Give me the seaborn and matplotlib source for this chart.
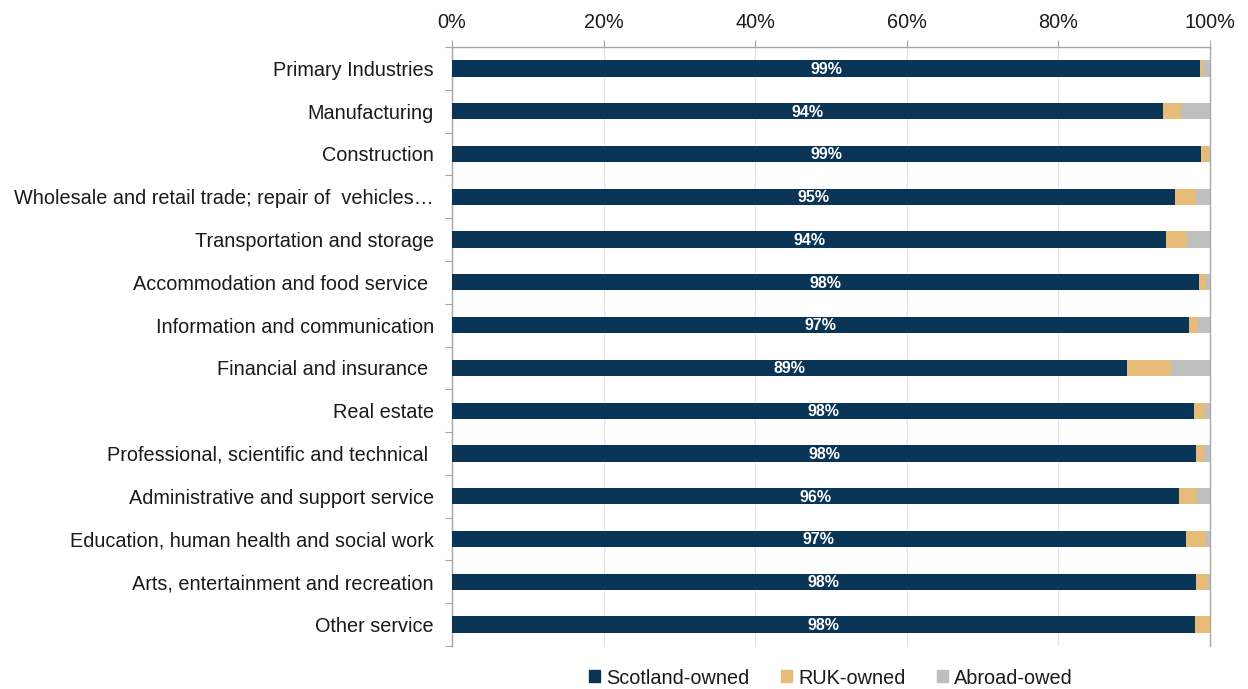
import matplotlib
matplotlib.use("Agg")
import matplotlib.pyplot as plt
import matplotlib.patches as mpatches
import seaborn as sns
import pandas as pd
import numpy as np

sectors = [
    "Primary Industries",
    "Manufacturing",
    "Construction",
    "Wholesale and retail trade; repair of  vehicles\u2026",
    "Transportation and storage",
    "Accommodation and food service ",
    "Information and communication",
    "Financial and insurance ",
    "Real estate",
    "Professional, scientific and technical ",
    "Administrative and support service",
    "Education, human health and social work",
    "Arts, entertainment and recreation",
    "Other service",
]
scotland = [98.7, 93.8, 98.8, 95.4, 94.2, 98.5, 97.2, 89.1, 97.9, 98.2, 95.9, 96.8, 98.1, 98.0]
ruk      = [0.4, 2.4, 1.1, 2.8, 2.8, 1.0, 1.2, 5.8, 1.5, 1.0, 2.4, 2.7, 1.7, 2.0]
abroad   = [0.9, 3.8, 0.1, 1.8, 3.0, 0.5, 1.6, 5.1, 0.6, 0.8, 1.7, 0.5, 0.2, 0.0]
labels   = ["99%", "94%", "99%", "95%", "94%", "98%", "97%", "89%", "98%", "98%", "96%", "97%", "98%", "98%"]

series_names = ["Scotland-owned", "RUK-owned", "Abroad-owed"]
colors = ["#0B3556", "#E6BC78", "#BFBFBF"]

df = pd.DataFrame({"sector": sectors, "Scotland-owned": scotland,
                   "RUK-owned": ruk, "Abroad-owed": abroad})
df["cum_scot"] = df["Scotland-owned"]
df["cum_ruk"] = df["cum_scot"] + df["RUK-owned"]
df["cum_abroad"] = df["cum_ruk"] + df["Abroad-owed"]

sns.set_theme(style="white")
plt.rcParams["font.family"] = ["Liberation Sans", "DejaVu Sans"]
text_color = "#1a1a1a"

fig = plt.figure(figsize=(12.48, 6.89), dpi=100)
ax = fig.add_axes([452 / 1248, 1 - 646 / 689, (1210 - 452) / 1248, (646 - 47) / 689])

# stacked bars: draw cumulative totals back to front
for col, color in zip(["cum_abroad", "cum_ruk", "cum_scot"], colors[::-1]):
    sns.barplot(data=df, y="sector", x=col, color=color, orient="h",
                width=0.38, ax=ax, saturation=1, linewidth=0, zorder=3)

for i, (v, lab) in enumerate(zip(scotland, labels)):
    ax.text(v / 2, i + 0.02, lab, ha="center", va="center", color="white",
            fontsize=11.5, fontweight="bold", zorder=5)

ax.set_xlim(0, 100)
ax.set_ylim(len(sectors) - 0.5, -0.5)
ax.set_xlabel("")
ax.set_ylabel("")

ax.xaxis.tick_top()
ax.set_xticks(np.arange(0, 101, 20))
ax.set_xticklabels([f"{t}%" for t in range(0, 101, 20)])
ax.tick_params(axis="x", which="major", top=True, bottom=False, direction="out",
               length=5, width=0.8, color="#A6A6A6", pad=6,
               labelsize=14.3, labelcolor=text_color)
ax.tick_params(axis="y", which="major", left=False, length=0, pad=13,
               labelsize=14.3, labelcolor=text_color)
ax.set_yticks(np.arange(len(sectors) + 1) - 0.5, minor=True)
ax.tick_params(axis="y", which="minor", left=True, direction="out", length=5,
               width=0.8, color="#A6A6A6")

ax.grid(axis="x", color="#E3E3E3", linewidth=0.8, zorder=0)
ax.grid(axis="y", visible=False)
ax.set_axisbelow(True)

for side in ["top", "left", "right"]:
    ax.spines[side].set_visible(True)
    ax.spines[side].set_color("#A6A6A6")
    ax.spines[side].set_linewidth(1)
ax.spines["bottom"].set_visible(False)

handles = [mpatches.Patch(color=c, label=n) for c, n in zip(colors, series_names)]
fig.legend(handles=handles, loc="center", bbox_to_anchor=(831 / 1248, 1 - 678 / 689),
           ncol=3, frameon=False, fontsize=14.3, handlelength=0.55, handleheight=0.55,
           handletextpad=0.3, columnspacing=1.6, labelcolor=text_color)

fig.savefig("out.png", dpi=100, facecolor="white")
